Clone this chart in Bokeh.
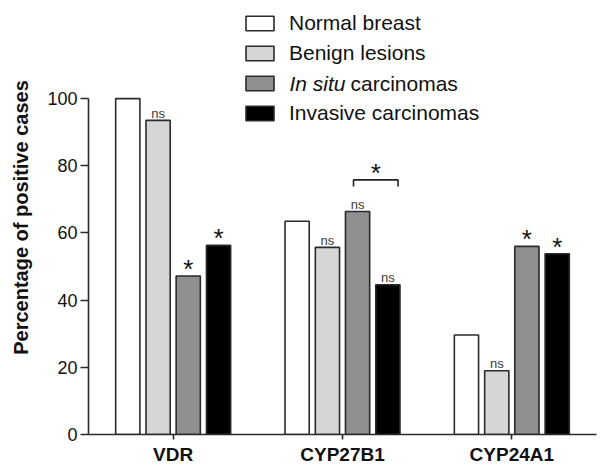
from bokeh.plotting import figure
from bokeh.models import (Range1d, FactorRange, FixedTicker, Legend, LegendItem,
                          Label, ColumnDataSource)
from bokeh.transform import dodge
from bokeh.embed import file_html
from bokeh.resources import INLINE
from bokeh.core.properties import value

# ---------------- data ----------------
genes = ["VDR", "CYP27B1", "CYP24A1"]
groups = ["Normal breast", "Benign lesions", "In situ carcinomas", "Invasive carcinomas"]
normal = [100.0, 63.5, 29.6]
benign = [93.5, 55.7, 19.0]
insitu = [47.2, 66.4, 56.0]
invasive = [56.3, 44.6, 53.8]
normal_sig = ["", "", ""]
benign_sig = ["ns", "ns", "ns"]
insitu_sig = ["*", "ns", "*"]
invasive_sig = ["*", "ns", "*"]
yticks = [0, 20, 40, 60, 80, 100]
bracket_gene = "CYP27B1"      # in situ vs invasive comparison
bracket_level = 75.8
bracket_tip = 73.8
bracket_mark = "*"

# ---------------- styles ----------------
colors = ["#ffffff", "#d6d6d6", "#8f8f8f", "#000000"]
offsets = [-0.268, -0.089, 0.089, 0.268]
bar_w = 0.143
FONT = "Liberation Sans"
EDGE = "#2a2a2a"

series = [normal, benign, insitu, invasive]
sigs = [normal_sig, benign_sig, insitu_sig, invasive_sig]

p = figure(width=600, height=468, x_range=FactorRange(*genes, range_padding=0),
           y_range=Range1d(0, 129.2), output_backend="svg", toolbar_location=None,
           min_border_left=88, min_border_right=4, min_border_top=0,
           min_border_bottom=34)
p.outline_line_color = None
p.xgrid.grid_line_color = None
p.ygrid.grid_line_color = None
p.background_fill_color = "white"
p.border_fill_color = "white"

renderers = []
for i, (vals, sg) in enumerate(zip(series, sigs)):
    src = ColumnDataSource(dict(gene=genes, val=vals, sig=sg,
                                star=[s if s == "*" else "" for s in sg],
                                ns=[s if s == "ns" else "" for s in sg]))
    r = p.vbar(x=dodge("gene", offsets[i], range=p.x_range), top="val", width=bar_w,
               bottom=0, source=src, fill_color=colors[i], line_color=EDGE,
               line_width=1.6)
    renderers.append(r)
    p.text(x=dodge("gene", offsets[i], range=p.x_range), y="val", text="ns", source=src,
           text_font=value(FONT), text_font_size="13px", text_color="#3a3a3a",
           text_align="center", text_baseline="alphabetic", y_offset=-7)
    p.text(x=dodge("gene", offsets[i], range=p.x_range), y="val", text="star", source=src,
           text_font=value(FONT), text_font_size="26px", text_color="#111111",
           text_align="center", text_baseline="middle", y_offset=-7)

# bracket between in situ and invasive bars of CYP27B1
gi = genes.index(bracket_gene) + 0.5
bx0 = gi + offsets[2] - 0.024
bx1 = gi + offsets[3] + 0.06
p.multi_line(xs=[[bx0, bx0, bx1, bx1]],
             ys=[[bracket_tip, bracket_level, bracket_level, bracket_tip]],
             line_color="#222222", line_width=1.6)
p.text(x=[(bx0 + bx1) / 2], y=[bracket_level], text=[bracket_mark],
       text_font=value(FONT), text_font_size="26px", text_color="#111111",
       text_align="center", text_baseline="middle", y_offset=-7)

# axes
yax = p.yaxis[0]
yax.ticker = FixedTicker(ticks=yticks)
yax.bounds = (yticks[0], yticks[-1])
yax.minor_tick_line_color = None
yax.major_tick_in = 0
yax.major_tick_out = 8
yax.major_label_standoff = 3
yax.major_label_text_font = FONT
yax.major_label_text_font_size = "18px"
yax.major_label_text_color = "#111111"
yax.axis_line_width = 1.6
yax.axis_line_color = EDGE
yax.major_tick_line_width = 1.6
yax.major_tick_line_color = EDGE
yax.axis_label = "Percentage of positive cases"
yax.axis_label_text_font = FONT
yax.axis_label_text_font_style = "bold"
yax.axis_label_text_font_size = "20px"
yax.axis_label_text_color = "#111111"
yax.axis_label_standoff = 12

xax = p.xaxis[0]
xax.major_tick_in = 0
xax.major_tick_out = 5
xax.major_label_standoff = 4
xax.major_label_text_font = FONT
xax.major_label_text_font_style = "bold"
xax.major_label_text_font_size = "19px"
xax.major_label_text_color = "#111111"
xax.axis_line_width = 1.6
xax.axis_line_color = EDGE
xax.major_tick_line_width = 1.6
xax.major_tick_line_color = EDGE

# legend
labels = [groups[0], groups[1], "", groups[3]]
legend = Legend(items=[LegendItem(label=labels[i], renderers=[renderers[i]]) for i in range(4)],
                location=(154, 309), orientation="vertical",
                glyph_width=35, glyph_height=18, label_standoff=12,
                label_height=24, spacing=6, padding=0, margin=0,
                border_line_color=None, background_fill_alpha=0,
                label_text_font=FONT, label_text_font_size="21px",
                label_text_color="#111111")
p.add_layout(legend, "center")

p.add_layout(Label(x=201, y=351, x_units="screen", y_units="screen", text="In situ",
                   text_font=FONT, text_font_style="italic", text_font_size="21px",
                   text_color="#111111", text_baseline="middle"))
p.add_layout(Label(x=262, y=351, x_units="screen", y_units="screen", text="carcinomas",
                   text_font=FONT, text_font_size="21px",
                   text_color="#111111", text_baseline="middle"))

open("out.html", "w").write(file_html(p, INLINE))
